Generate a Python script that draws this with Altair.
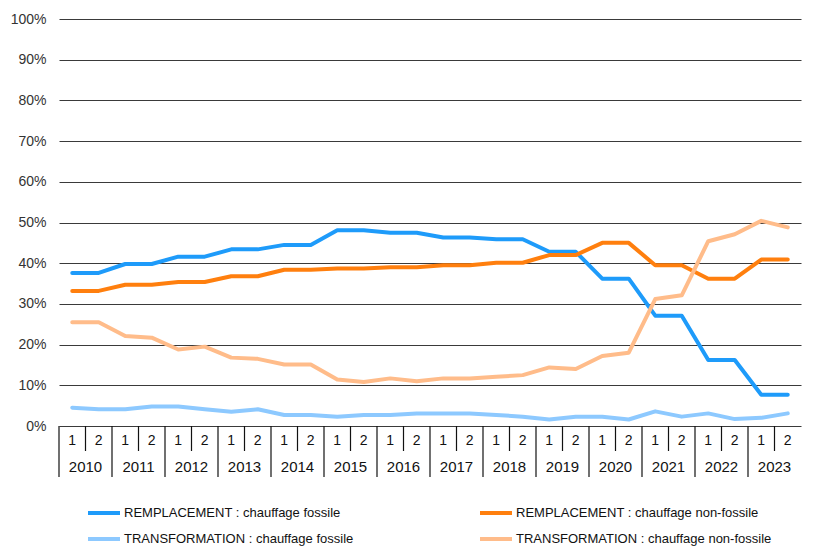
import altair as alt
import pandas as pd

years = [str(y) for y in range(2010, 2024)]
halves = ["1", "2"]

series_names = [
    "REMPLACEMENT : chauffage fossile",
    "TRANSFORMATION : chauffage fossile",
    "REMPLACEMENT : chauffage non-fossile",
    "TRANSFORMATION : chauffage non-fossile",
]
series_colors = ["#1E9BFA", "#8DC9FF", "#FF7F0E", "#FFBC8A"]

rep_fossile = [37.6, 37.6, 39.8, 39.8, 41.6, 41.6, 43.4, 43.4, 44.5, 44.5, 48.1, 48.1, 47.5, 47.5,
               46.3, 46.3, 45.9, 45.9, 42.8, 42.8, 36.2, 36.2, 27.1, 27.1, 16.2, 16.2, 7.7, 7.7]
trans_fossile = [4.5, 4.1, 4.1, 4.8, 4.8, 4.1, 3.5, 4.1, 2.7, 2.7, 2.3, 2.7, 2.7, 3.1,
                 3.1, 3.1, 2.7, 2.3, 1.6, 2.3, 2.3, 1.6, 3.6, 2.3, 3.1, 1.7, 2.0, 3.1]
rep_nonfossile = [33.2, 33.2, 34.7, 34.7, 35.4, 35.4, 36.8, 36.8, 38.4, 38.4, 38.7, 38.7, 39.0, 39.0,
                  39.5, 39.5, 40.1, 40.1, 42.0, 42.0, 45.0, 45.0, 39.5, 39.5, 36.2, 36.2, 40.9, 40.9]
trans_nonfossile = [25.5, 25.5, 22.1, 21.7, 18.8, 19.5, 16.8, 16.5, 15.1, 15.1, 11.4, 10.8, 11.7, 11.0,
                    11.7, 11.7, 12.1, 12.5, 14.4, 14.0, 17.2, 18.0, 31.2, 32.1, 45.4, 47.1, 50.4, 48.8]

series_values = [rep_fossile, trans_fossile, rep_nonfossile, trans_nonfossile]

n = len(years) * len(halves)

rows = []
for name, vals in zip(series_names, series_values):
    for i, v in enumerate(vals):
        rows.append({"pos": i + 0.5, "serie": name, "valeur": v})
df = pd.DataFrame(rows)

half_df = pd.DataFrame([{"pos": i + 0.5, "lab": halves[i % 2]} for i in range(n)])
year_df = pd.DataFrame([{"pos": 2 * k + 1, "lab": y} for k, y in enumerate(years)])
bound_df = pd.DataFrame([{"b": i, "kind": "year" if i % 2 == 0 else "half"} for i in range(n)])

W = 742
H = 407
NARROW = "Liberation Sans Narrow, Liberation Sans, Arial, sans-serif"
REG = "Liberation Sans, Arial, sans-serif"

xscale = alt.Scale(domain=[0, n], nice=False, zero=False)

lines = alt.Chart(df).mark_line(strokeWidth=4, strokeCap="round", strokeJoin="round").encode(
    x=alt.X("pos:Q", scale=xscale, axis=None),
    y=alt.Y("valeur:Q", scale=alt.Scale(domain=[0, 100], nice=False),
            axis=alt.Axis(values=list(range(0, 101, 10)), labelExpr="datum.value + '%'",
                          title=None, domain=False, ticks=False, labelPadding=13,
                          labelFont=REG, labelFontSize=14, labelColor="#333333",
                          grid=True, gridColor="#3a3a3a", gridWidth=1.2)),
    color=alt.Color("serie:N", scale=alt.Scale(domain=series_names, range=series_colors),
                    sort=series_names,
                    legend=alt.Legend(title=None, orient="none", legendX=27, legendY=476,
                                      columns=2, symbolType="M-1,0L1,0", symbolSize=1024,
                                      symbolStrokeWidth=4, labelFont=NARROW, labelFontSize=13,
                                      labelColor="#111111", labelOffset=2, columnPadding=118,
                                      rowPadding=-1, labelLimit=400)),
    order="pos:Q",
)

half_text = alt.Chart(half_df).mark_text(font=NARROW, fontSize=14, color="#111111", baseline="middle").encode(
    x=alt.X("pos:Q", scale=xscale), y=alt.value(H + 15), text="lab:N")
year_text = alt.Chart(year_df).mark_text(font=NARROW, fontSize=15, color="#111111", baseline="middle").encode(
    x=alt.X("pos:Q", scale=xscale), y=alt.value(H + 41), text="lab:N")
half_rules = alt.Chart(bound_df).transform_filter("datum.kind == 'half'").mark_rule(
    color="#111111", strokeWidth=1.2).encode(
    x=alt.X("b:Q", scale=xscale), y=alt.value(H), y2=alt.value(H + 25))
year_rules = alt.Chart(bound_df).transform_filter("datum.kind == 'year'").mark_rule(
    color="#111111", strokeWidth=1.2).encode(
    x=alt.X("b:Q", scale=xscale), y=alt.value(H), y2=alt.value(H + 51))

chart = alt.layer(lines, half_rules, year_rules, half_text, year_text).properties(
    width=W, height=H, background="white",
    padding={"left": 2, "top": 4, "right": 3, "bottom": 0}
).configure_view(stroke=None)

chart.save("out.html", embed_options={"renderer": "svg", "actions": False})
